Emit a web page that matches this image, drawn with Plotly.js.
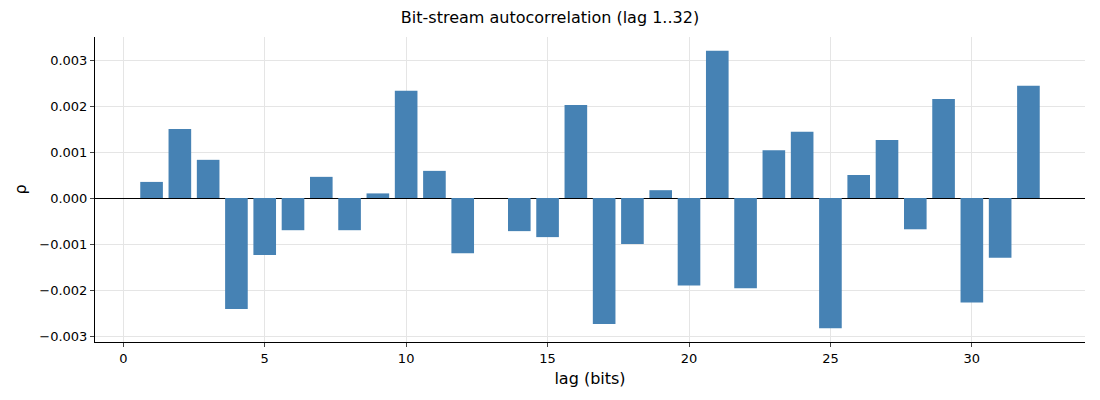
<!DOCTYPE html>
<html><head><meta charset="utf-8">
<script src="https://cdn.plot.ly/plotly-3.0.1.min.js"></script>
<style>body{margin:0}</style></head>
<body><div id="chart" style="width:1100px;height:400px"></div>
<script>
// lag index and autocorrelation values
var lags = [];
for (var i = 1; i <= 32; i++) lags.push(i);
var rho = [0.00035, 0.0015, 0.00083, -0.00241, -0.00124, -0.0007, 0.00046, -0.0007,
           0.0001, 0.00233, 0.00059, -0.0012, 0.0, -0.00072, -0.00085, 0.00202,
           -0.00274, -0.001, 0.00017, -0.0019, 0.0032, -0.00196, 0.00104, 0.00144,
           -0.00283, 0.0005, 0.00126, -0.00068, 0.00215, -0.00227, -0.0013, 0.00244];

var trace = {x: lags, y: rho, type: 'bar', width: 0.8,
    marker: {color: '#4682b4'}};
var layout = {
    font: {family: 'DejaVu Sans', size: 13, color: '#000'},
    title: {text: 'Bit-stream autocorrelation (lag 1..32)', x: 0.5, y: 0.97, font: {size: 16}},
    margin: {l: 95, r: 15, t: 37, b: 58},
    plot_bgcolor: '#fff', paper_bgcolor: '#fff',
    showlegend: false,
    xaxis: {range: [-1, 34], tickvals: [0,5,10,15,20,25,30], showgrid: true, gridcolor: '#e5e5e5',
        zeroline: false, showline: true, linecolor: '#000', ticks: 'outside', ticklen: 4,
        title: {text: 'lag (bits)', standoff: 8}},
    yaxis: {range: [-0.00313, 0.0035], tickvals: [-0.003,-0.002,-0.001,0,0.001,0.002,0.003],
        tickformat: '.3f', showgrid: true, gridcolor: '#e5e5e5',
        zeroline: true, zerolinecolor: '#000', zerolinewidth: 1,
        showline: true, linecolor: '#000', ticks: 'outside', ticklen: 4,
        title: {text: 'ρ', standoff: 8}}
};
Plotly.newPlot('chart', [trace], layout, {displayModeBar: false});
</script></body></html>
